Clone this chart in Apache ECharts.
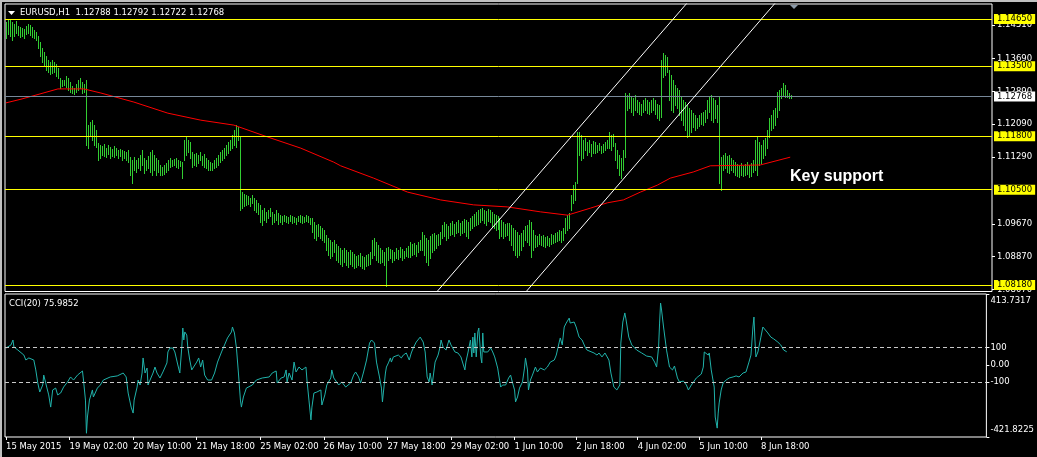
<!DOCTYPE html>
<html><head><meta charset="utf-8">
<script src="https://cdn.jsdelivr.net/npm/echarts@6/dist/echarts.min.js"></script>
<style>html,body{margin:0;padding:0;background:#000;}#c{width:1037px;height:457px;}</style>
</head><body><div id="c"></div>
<script>
// ---- data ----
const barHigh = [
1.1458,1.1463,1.1465,1.1458,1.1453,1.1460,1.1448,1.1446,1.1443,1.1441,
1.1448,1.1453,1.1450,1.1446,1.1438,1.1433,1.1424,1.1409,1.1395,1.1385,
1.1375,1.1365,1.1361,1.1365,1.1361,1.1356,1.1346,1.1322,1.1317,1.1317,
1.1326,1.1322,1.1312,1.1302,1.1297,1.1307,1.1317,1.1322,1.1312,1.1307,
1.1317,1.1207,1.1215,1.1220,1.1207,1.1195,1.1164,1.1159,1.1156,1.1161,
1.1152,1.1159,1.1154,1.1149,1.1156,1.1152,1.1147,1.1149,1.1147,1.1144,
1.1142,1.1147,1.1130,1.1122,1.1130,1.1122,1.1127,1.1135,1.1147,1.1127,
1.1122,1.1132,1.1142,1.1147,1.1135,1.1127,1.1122,1.1110,1.1105,1.1110,
1.1115,1.1122,1.1127,1.1122,1.1125,1.1127,1.1122,1.1120,1.1117,1.1171,
1.1178,1.1171,1.1166,1.1142,1.1137,1.1139,1.1135,1.1142,1.1132,1.1137,
1.1127,1.1122,1.1117,1.1115,1.1122,1.1127,1.1135,1.1142,1.1147,1.1152,
1.1159,1.1166,1.1171,1.1183,1.1195,1.1207,1.1203,1.1178,1.1045,1.1040,
1.1037,1.1035,1.1030,1.1037,1.1030,1.1025,1.1018,1.1013,1.1001,1.1006,
1.0996,1.1001,1.1006,1.0996,1.0991,1.1001,1.0994,1.0989,1.0986,1.0989,
1.0986,1.0984,1.0989,1.0986,1.0984,1.0981,1.0986,1.0989,1.0986,1.0984,
1.0989,1.0986,1.0981,1.0981,1.0972,1.0964,1.0967,1.0962,1.0957,1.0952,
1.0940,1.0933,1.0928,1.0923,1.0928,1.0918,1.0913,1.0909,1.0904,1.0909,
1.0904,1.0899,1.0904,1.0899,1.0894,1.0889,1.0892,1.0896,1.0889,1.0887,
1.0892,1.0894,1.0899,1.0928,1.0933,1.0923,1.0916,1.0909,1.0904,1.0899,
1.0909,1.0911,1.0906,1.0904,1.0899,1.0909,1.0904,1.0911,1.0906,1.0901,
1.0909,1.0913,1.0923,1.0918,1.0921,1.0916,1.0923,1.0928,1.0947,1.0940,
1.0933,1.0928,1.0938,1.0943,1.0945,1.0940,1.0943,1.0947,1.0964,1.0972,
1.0967,1.0962,1.0969,1.0974,1.0967,1.0972,1.0977,1.0969,1.0974,1.0979,
1.0977,1.0972,1.0981,1.0986,1.0991,1.0996,1.1001,1.1003,1.1006,1.1001,
1.0998,1.1003,1.1001,1.0996,1.0991,1.0989,1.0986,1.0981,1.0977,1.0972,
1.0967,1.0969,1.0969,1.0964,1.0957,1.0952,1.0947,1.0940,1.0945,1.0952,
1.0962,1.0964,1.0977,1.0972,1.0952,1.0940,1.0938,1.0943,1.0938,1.0940,
1.0935,1.0938,1.0933,1.0943,1.0940,1.0945,1.0947,1.0952,1.0950,1.0957,
1.0981,1.0989,1.0994,1.1037,1.1062,1.1069,1.1190,1.1190,1.1183,1.1171,
1.1176,1.1166,1.1171,1.1161,1.1168,1.1166,1.1159,1.1164,1.1156,1.1161,
1.1166,1.1171,1.1190,1.1183,1.1186,1.1164,1.1147,1.1135,1.1127,1.1147,
1.1285,1.1280,1.1285,1.1278,1.1273,1.1280,1.1268,1.1263,1.1258,1.1268,
1.1273,1.1268,1.1263,1.1268,1.1273,1.1268,1.1258,1.1256,1.1365,1.1382,
1.1378,1.1373,1.1341,1.1329,1.1317,1.1305,1.1297,1.1293,1.1275,1.1268,
1.1263,1.1256,1.1249,1.1244,1.1237,1.1232,1.1225,1.1232,1.1237,1.1239,
1.1244,1.1268,1.1278,1.1280,1.1273,1.1268,1.1256,1.1275,1.1130,1.1135,
1.1139,1.1132,1.1135,1.1127,1.1122,1.1117,1.1113,1.1110,1.1115,1.1108,
1.1113,1.1117,1.1110,1.1115,1.1122,1.1171,1.1178,1.1166,1.1159,1.1171,
1.1176,1.1195,1.1225,1.1232,1.1244,1.1249,1.1288,1.1293,1.1297,1.1310,
1.1305,1.1293,1.1285,1.1279];
const barLow = [
1.1419,1.1429,1.1424,1.1414,1.1424,1.1431,1.1426,1.1421,1.1424,1.1419,
1.1429,1.1431,1.1426,1.1421,1.1419,1.1414,1.1395,1.1375,1.1361,1.1351,
1.1341,1.1336,1.1331,1.1334,1.1336,1.1326,1.1322,1.1297,1.1302,1.1305,
1.1300,1.1293,1.1288,1.1285,1.1283,1.1288,1.1293,1.1297,1.1285,1.1288,
1.1159,1.1152,1.1183,1.1171,1.1159,1.1154,1.1122,1.1127,1.1135,1.1132,
1.1130,1.1137,1.1127,1.1132,1.1130,1.1135,1.1127,1.1132,1.1122,1.1127,
1.1122,1.1117,1.1086,1.1066,1.1098,1.1093,1.1103,1.1098,1.1110,1.1091,
1.1098,1.1103,1.1093,1.1086,1.1098,1.1086,1.1093,1.1086,1.1086,1.1088,
1.1093,1.1098,1.1105,1.1108,1.1110,1.1105,1.1103,1.1108,1.1079,1.1122,
1.1135,1.1142,1.1127,1.1105,1.1110,1.1108,1.1115,1.1122,1.1110,1.1105,
1.1103,1.1098,1.1098,1.1098,1.1103,1.1105,1.1110,1.1117,1.1122,1.1127,
1.1135,1.1139,1.1147,1.1152,1.1159,1.1154,1.1171,1.1001,1.1006,1.1011,
1.1013,1.1015,1.1011,1.1018,1.1001,1.0996,1.0991,1.0972,1.0964,1.0977,
1.0972,1.0981,1.0986,1.0967,1.0972,1.0977,1.0967,1.0972,1.0967,1.0974,
1.0972,1.0969,1.0974,1.0969,1.0972,1.0967,1.0974,1.0972,1.0969,1.0972,
1.0974,1.0972,1.0967,1.0947,1.0933,1.0928,1.0938,1.0933,1.0928,1.0923,
1.0904,1.0892,1.0884,1.0889,1.0899,1.0879,1.0875,1.0870,1.0865,1.0875,
1.0867,1.0862,1.0870,1.0865,1.0860,1.0862,1.0867,1.0865,1.0860,1.0858,
1.0865,1.0867,1.0870,1.0884,1.0892,1.0879,1.0875,1.0872,1.0875,1.0867,
1.0816,1.0879,1.0884,1.0875,1.0879,1.0884,1.0882,1.0887,1.0879,1.0884,
1.0889,1.0887,1.0887,1.0892,1.0894,1.0889,1.0899,1.0904,1.0904,1.0892,
1.0875,1.0867,1.0884,1.0899,1.0904,1.0909,1.0916,1.0918,1.0933,1.0938,
1.0928,1.0933,1.0940,1.0943,1.0938,1.0945,1.0947,1.0940,1.0945,1.0947,
1.0938,1.0933,1.0952,1.0957,1.0962,1.0964,1.0967,1.0972,1.0977,1.0969,
1.0964,1.0974,1.0972,1.0962,1.0957,1.0952,1.0955,1.0933,1.0938,1.0933,
1.0938,1.0940,1.0928,1.0916,1.0904,1.0892,1.0887,1.0892,1.0904,1.0913,
1.0928,1.0923,1.0916,1.0887,1.0904,1.0911,1.0913,1.0918,1.0916,1.0913,
1.0911,1.0916,1.0913,1.0918,1.0921,1.0923,1.0926,1.0928,1.0923,1.0928,
1.0945,1.0952,1.0957,1.1001,1.1018,1.1025,1.1066,1.1135,1.1122,1.1127,
1.1147,1.1135,1.1142,1.1132,1.1139,1.1139,1.1142,1.1147,1.1139,1.1142,
1.1147,1.1152,1.1152,1.1147,1.1156,1.1122,1.1103,1.1086,1.1079,1.1098,
1.1130,1.1244,1.1249,1.1239,1.1232,1.1244,1.1239,1.1234,1.1232,1.1239,
1.1244,1.1237,1.1234,1.1239,1.1244,1.1234,1.1225,1.1220,1.1227,1.1324,
1.1329,1.1336,1.1268,1.1244,1.1239,1.1256,1.1249,1.1232,1.1220,1.1207,
1.1195,1.1178,1.1183,1.1190,1.1203,1.1195,1.1200,1.1205,1.1210,1.1207,
1.1215,1.1225,1.1239,1.1220,1.1215,1.1225,1.1215,1.1066,1.1049,1.1098,
1.1103,1.1093,1.1091,1.1098,1.1093,1.1086,1.1083,1.1081,1.1086,1.1083,
1.1086,1.1088,1.1081,1.1083,1.1093,1.1098,1.1086,1.1110,1.1115,1.1127,
1.1135,1.1152,1.1178,1.1195,1.1200,1.1207,1.1227,1.1244,1.1273,1.1278,
1.1275,1.1275,1.1273,1.1272];

// 200-period moving average (bar index, price)
const maBar = [0,7.5,15,26,39,47.5,64,81,97.5,114,131,147.5,164,167.5,184,201,217.5,234,251,267.5,281,292.5,301,309,317.5,326,332.5,344,352.5,377.5,392.5];
const maVal = [1.1261,1.1270,1.1280,1.1295,1.1295,1.1285,1.1263,1.1236,1.1219,1.1207,1.1178,1.1151,1.1117,1.1108,1.1078,1.1044,1.1025,1.1013,1.1008,1.0996,1.0988,1.1005,1.1018,1.1025,1.1044,1.1061,1.1078,1.1093,1.1108,1.1110,1.1129];

// CCI(20) trace (bar index, value)
const cciPoints = [[0,98],[2.5,116],[3.5,145],[4,104],[6,86],[9,57],[10,28],[11.5,40],[14,28],[15,-30],[16,-106],[17,-159],[18.5,-118],[19,-60],[20.5,-130],[21.5,-176],[22.5,-247],[23.5,-147],[25,-136],[26,-176],[27.5,-165],[29,-130],[31,-100],[32.5,-71],[34,-89],[36,-60],[38.5,-36],[39,-89],[40,-206],[40.5,-400],[41,-305],[42,-206],[43.5,-147],[44,-188],[46,-136],[47.5,-118],[49,-89],[52.5,-71],[56,-65],[59,-48],[60.5,-71],[61.5,-165],[63,-247],[64,-282],[64.5,-206],[66,-130],[66.5,-89],[67.5,-118],[68.5,-48],[69,40],[70,-48],[71,-19],[71.5,-118],[72.5,-89],[74,-48],[75,-13],[76,-48],[77.5,-77],[79,-42],[81,11],[81.5,75],[82.5,98],[83.5,104],[84,98],[85,75],[86,86],[86.5,-1],[87.5,-48],[88.5,104],[89,215],[89.5,145],[90,192],[91,174],[91.5,104],[92.5,28],[93.5,-30],[94,-19],[96,16],[97,40],[98,-13],[99,28],[100,-60],[101.5,-89],[103.5,-89],[105,-48],[106.5,16],[108.5,75],[110,116],[111.5,157],[113.5,192],[114,221],[115,186],[116,98],[117,-48],[118,-206],[118.5,-247],[119.5,-188],[121,-136],[124,-118],[126,-89],[129,-77],[132.5,-71],[134,-48],[136,-36],[136.5,-106],[138.5,-77],[140,-71],[141,-30],[141.5,-100],[142.5,-48],[144,-89],[145,16],[146,-42],[147.5,-13],[149,-30],[151,-13],[151.5,-89],[152.5,-206],[153.5,-322],[154,-247],[155,-165],[156.5,-159],[158.5,-147],[159,-235],[160.5,-176],[161.5,-118],[163.5,-77],[164,-30],[165,-77],[166,-71],[167.5,-118],[169,-100],[171,-130],[173.5,-106],[175,-60],[176,-42],[177.5,-71],[178.5,-106],[180,-42],[181.5,28],[183,127],[184,145],[185.5,127],[186.5,16],[188,-71],[189,-136],[189.5,-217],[190,-159],[191,-48],[191.5,-13],[192.5,11],[193.5,40],[194,16],[195,46],[196,40],[197.5,57],[199,40],[200,57],[201.5,69],[203,28],[204,69],[205,98],[206.5,133],[208.5,162],[210,133],[211,75],[212,-71],[213,-100],[213.5,-48],[214.5,-118],[216,16],[217.5,57],[218.5,104],[219,145],[220,104],[221.5,86],[223,145],[224,116],[226,75],[227.5,69],[229,46],[231,-30],[231.5,16],[232.5,69],[233.8,145],[234.5,46],[235,162],[235.5,69],[236,186],[236.7,46],[237.5,192],[238,215],[239,46],[239.5,11],[240,186],[240.5,75],[241.5,86],[242.5,75],[244,98],[245,75],[246,46],[247.5,-19],[249,-130],[250,-118],[251.5,-118],[253,-77],[254,-60],[255,-106],[256,-147],[256.5,-217],[257.5,-188],[258.5,-136],[260,-100],[261,-19],[261.5,40],[262.5,-30],[263,-147],[264,-89],[265,-60],[266.5,-13],[267.5,-42],[269,-19],[271,-30],[272.5,-13],[274,16],[276,28],[277,57],[278.5,133],[279,157],[280,116],[281,221],[282,244],[283.5,273],[284,244],[286,250],[287,221],[288.5,162],[290,145],[291.5,104],[292.5,86],[296,69],[297.5,57],[298.5,69],[300,46],[301.5,69],[303.5,28],[304.5,-48],[306,-130],[307.5,-147],[309,-118],[309.5,127],[310.5,250],[311.5,303],[312,273],[313.5,162],[315,116],[317.5,86],[320,69],[322.5,51],[325,46],[326.5,16],[327.5,-13],[328.5,104],[329,244],[329.5,361],[330,320],[331,221],[332.5,86],[334,-13],[335.5,-30],[336.5,-7],[338,-77],[339,-100],[341,-95],[342.5,-118],[343.5,-147],[345,-118],[347.5,-77],[350,-54],[351,-13],[351.5,75],[352.5,69],[353.5,57],[354,69],[355,-30],[356,-19],[356.5,-130],[357,-305],[358,-370],[358.5,-282],[359,-223],[360,-147],[361,-106],[362.5,-89],[364,-77],[366,-71],[367.5,-65],[369,-71],[371,-48],[372.5,-42],[374,16],[375,57],[376,221],[376.5,279],[377,145],[377.5,46],[378.5,75],[379,86],[380,162],[381,221],[382,227],[383.5,186],[385,162],[386.5,151],[388.5,133],[390,116],[391.5,86],[393,76]];

// trend channel lines (bar index, price)
const channelUpper = [[210,1.0770],[345,1.1527]];
const channelLower = [[255,1.0772],[390,1.1532]];

// horizontal levels
const levels = [1.1465, 1.1350, 1.1180, 1.1050, 1.0818];
const lastPrice = 1.12768;
const cciLevels = [100, -100];

// axes
const priceTicks = [1.1451, 1.1369, 1.1289, 1.1209, 1.1129, 1.0967, 1.0887, 1.0807];
const cciTicks = [413.7317, 100, 0, -100, -421.8225];
const cciTickLabels = ['413.7317', '100', '0.00', '-100', '-421.8225'];
const timeLabels = ['15 May 2015','19 May 02:00','20 May 10:00','21 May 18:00','25 May 02:00','26 May 10:00','27 May 18:00','29 May 02:00','1 Jun 10:00','2 Jun 18:00','4 Jun 02:00','5 Jun 10:00','8 Jun 18:00'];
const timeLabelBar = [0,32,64,96,128,160,192,224,256,287,318,349,380];
const headerText = 'EURUSD,H1  1.12788 1.12792 1.12722 1.12768';
const cciTitle = 'CCI(20) 75.9852';
const noteText = 'Key support';

// ---- chart ----
const FONT = 'DejaVu Sans';
const nearestIdx = (arr, v) => { let b = 0; for (let k = 1; k < arr.length; k++) if (Math.abs(arr[k]-v) < Math.abs(arr[b]-v)) b = k; return b; };
const barData = barHigh.map((h, i) => [i, h, barLow[i]]);
const maData = maBar.map((b, i) => [b, maVal[i]]);
const chart = echarts.init(document.getElementById('c'), null, {renderer: 'canvas'});
const lvlLabel = (bg) => ({show: true, position: 'end', distance: 2, formatter: p => Number(p.value).toFixed(5),
  color: '#000', backgroundColor: bg, fontFamily: FONT, fontSize: 8.5, lineHeight: 10, padding: [0, 3, 0, 3]});
const noZero = {show: false, onZero: false};
const option = {
  backgroundColor: '#000',
  animation: false,
  grid: [
    {left: 5, right: 45, top: 4, height: 287.5, show: true, borderColor: '#ffffff', borderWidth: 1, backgroundColor: '#000'},
    {left: 5, right: 45, top: 294, height: 143, show: true, borderColor: '#ffffff', borderWidth: 1, backgroundColor: '#000'}
  ],
  xAxis: [
    {type: 'value', gridIndex: 0, min: -0.5, max: 493.5, axisLine: noZero, axisTick: {show: false}, axisLabel: {show: false}, splitLine: {show: false}},
    {type: 'value', gridIndex: 1, min: -0.5, max: 493.5, position: 'bottom', splitLine: {show: false}, axisLine: noZero,
     axisTick: {show: true, length: 3, lineStyle: {color: '#fff'}, customValues: timeLabelBar},
     axisLabel: {customValues: timeLabelBar, formatter: v => timeLabels[nearestIdx(timeLabelBar, v)],
       color: '#fff', fontFamily: FONT, fontSize: 8.5, align: 'left', margin: 5}}
  ],
  yAxis: [
    {type: 'value', gridIndex: 0, position: 'right', min: 1.08023, max: 1.15015, splitLine: {show: false}, axisLine: noZero,
     axisTick: {show: true, length: 3, lineStyle: {color: '#fff'}, customValues: priceTicks},
     axisLabel: {customValues: priceTicks, formatter: v => v.toFixed(5), color: '#fff', fontFamily: FONT, fontSize: 8.5, margin: 5}},
    {type: 'value', gridIndex: 1, position: 'right', min: -421.8225, max: 413.7317, splitLine: {show: false}, axisLine: noZero,
     axisTick: {show: true, length: 3, lineStyle: {color: '#fff'}, customValues: cciTicks},
     axisLabel: {customValues: cciTicks, color: '#fff', fontFamily: FONT, fontSize: 8.5, margin: 4,
       formatter: v => { const k = nearestIdx(cciTicks, v); const s = cciTickLabels[k];
         return k === 0 ? '{t|' + s + '}' : (k === cciTicks.length - 1 ? '{b|' + s + '}' : s); },
       rich: {t: {padding: [14, 0, 0, 0], color: '#fff', fontFamily: FONT, fontSize: 8.5},
              b: {padding: [0, 0, 14, 0], color: '#fff', fontFamily: FONT, fontSize: 8.5}}}}
  ],
  series: [
    {type: 'custom', name: 'EURUSD', xAxisIndex: 0, yAxisIndex: 0, data: barData, encode: {x: 0, y: [1, 2]}, clip: true, z: 2,
     itemStyle: {color: '#32cd32'}, emphasis: {disabled: true}, silent: true,
     renderItem: (params, api) => {
       const a = api.coord([api.value(0), api.value(1)]);
       const b = api.coord([api.value(0), api.value(2)]);
       const x = Math.round(a[0]);
       const y1 = Math.round(a[1]);
       const y2 = Math.round(b[1]);
       return {type: 'rect', shape: {x: x, y: y1, width: 1, height: Math.max(1, y2 - y1 + 1)},
               style: {fill: '#32cd32', stroke: null}};
     }},
    {type: 'line', name: 'MA', xAxisIndex: 0, yAxisIndex: 0, data: maData, symbol: 'none', z: 4, silent: true,
     lineStyle: {color: '#ff0000', width: 1},
     markLine: {silent: true, symbol: ['none', 'none'], animation: false, precision: 5,
       data: levels.map(v => ({yAxis: v, lineStyle: {color: '#ffff00', width: 1, type: 'solid'}, label: lvlLabel('#ffff00')}))
         .concat([{yAxis: lastPrice, lineStyle: {color: '#778899', width: 1, type: 'solid'}, label: lvlLabel('#ffffff')}])}},
    {type: 'line', name: 'ch1', xAxisIndex: 0, yAxisIndex: 0, data: channelUpper, symbol: 'none', clip: true, z: 5, silent: true,
     lineStyle: {color: '#ffffff', width: 1}},
    {type: 'line', name: 'ch2', xAxisIndex: 0, yAxisIndex: 0, data: channelLower, symbol: 'none', clip: true, z: 5, silent: true,
     lineStyle: {color: '#ffffff', width: 1}},
    {type: 'line', name: 'CCI', xAxisIndex: 1, yAxisIndex: 1, data: cciPoints, symbol: 'none', z: 4, silent: true,
     lineStyle: {color: '#20b2aa', width: 1},
     markLine: {silent: true, symbol: ['none', 'none'], animation: false, label: {show: false}, precision: 4,
       data: cciLevels.map(v => ({yAxis: v})),
       lineStyle: {color: '#c8c8c8', width: 1, type: [4, 3]}}}
  ],
  graphic: [
    {type: 'rect', shape: {x: 0, y: 0, width: 1037, height: 2}, style: {fill: '#c0c0c0'}, z: 100},
    {type: 'rect', shape: {x: 0, y: 0, width: 2, height: 457}, style: {fill: '#c0c0c0'}, z: 100},
    {type: 'polygon', shape: {points: [[8, 11], [15, 11], [11.5, 15]]}, style: {fill: '#ffffff'}, z: 100},
    {type: 'text', x: 20, y: 13, z: 100, style: {text: headerText, fill: '#ffffff', font: '8.5px "DejaVu Sans"', verticalAlign: 'middle', align: 'left'}},
    {type: 'text', x: 9, y: 303.5, z: 100, style: {text: cciTitle, fill: '#ffffff', font: '8.5px "DejaVu Sans"', verticalAlign: 'middle', align: 'left'}},
    {type: 'text', x: 790, y: 177, z: 100, style: {text: noteText, fill: '#ffffff', font: 'bold 16px "Liberation Sans"', verticalAlign: 'middle', align: 'left'}},
    {type: 'polygon', shape: {points: [[790, 5], [798, 5], [794, 9]]}, style: {fill: '#8c9aa8'}, z: 100}
  ]
};
chart.setOption(option);
</script>
</body></html>
